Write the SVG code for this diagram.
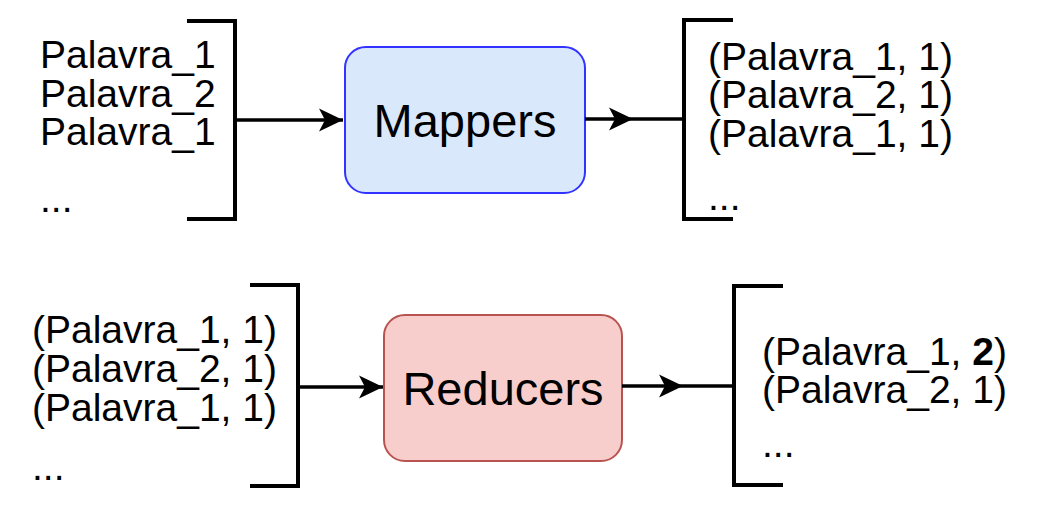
<svg xmlns="http://www.w3.org/2000/svg" width="1052" height="514" viewBox="0 0 1052 514">
<style>
.t{font-family:"Liberation Sans",Arial,Helvetica,sans-serif;font-size:39px;fill:#000}
.big{font-family:"Liberation Sans",Arial,Helvetica,sans-serif;font-size:47px;fill:#000;text-anchor:middle}
.br{fill:none;stroke:#000;stroke-width:4}
.ln{fill:none;stroke:#000;stroke-width:3.5}
</style>
<defs>
<marker id="arr" markerUnits="userSpaceOnUse" markerWidth="26" markerHeight="26" viewBox="0 0 26 26" refX="25" refY="13" orient="auto">
<path d="M1,1.5 L25,13 L1,24.5 L7,13 Z" fill="#000"/>
</marker>
</defs>
<rect width="1052" height="514" fill="#fff"/>
<g id="input-map">
<path class="br" d="M187,21 H235 V219 H187"/>
<text class="t" x="40" y="68">Palavra_1</text>
<text class="t" x="40" y="107">Palavra_2</text>
<text class="t" x="40" y="145">Palavra_1</text>
<text class="t" x="40" y="212">...</text>
</g>
<g id="mappers">
<rect x="345" y="47" width="240" height="146" rx="21" fill="#dae8fc" stroke="#3333ff" stroke-width="2"/>
<text class="big" x="465" y="137">Mappers</text>
</g>
<g id="output-map">
<path class="br" d="M733,20 H684 V219 H733"/>
<text class="t" x="708" y="70">(Palavra_1, 1)</text>
<text class="t" x="708" y="108">(Palavra_2, 1)</text>
<text class="t" x="708" y="147">(Palavra_1, 1)</text>
<text class="t" x="708" y="210">...</text>
</g>
<g id="input-reduce">
<path class="br" d="M250,285 H298 V486 H250"/>
<text class="t" x="32" y="343">(Palavra_1, 1)</text>
<text class="t" x="32" y="382">(Palavra_2, 1)</text>
<text class="t" x="32" y="421">(Palavra_1, 1)</text>
<text class="t" x="32" y="480">...</text>
</g>
<g id="reducers">
<rect x="384" y="315" width="238" height="146" rx="21" fill="#f8cecc" stroke="#b85450" stroke-width="2"/>
<text class="big" x="503" y="405">Reducers</text>
</g>
<g id="output-reduce">
<path class="br" d="M783,286 H734 V485 H783"/>
<text class="t" x="762" y="365">(Palavra_1, <tspan font-weight="bold">2</tspan>)</text>
<text class="t" x="762" y="403">(Palavra_2, 1)</text>
<text class="t" x="762" y="457">...</text>
</g>
<g id="connectors">
<path class="ln" d="M235,120 H343" marker-end="url(#arr)"/>
<path class="ln" d="M585,119 H633" marker-end="url(#arr)"/>
<path class="ln" d="M633,119 H684"/>
<path class="ln" d="M298,387 H383" marker-end="url(#arr)"/>
<path class="ln" d="M622,386 H683" marker-end="url(#arr)"/>
<path class="ln" d="M683,386 H734"/>
</g>
</svg>
